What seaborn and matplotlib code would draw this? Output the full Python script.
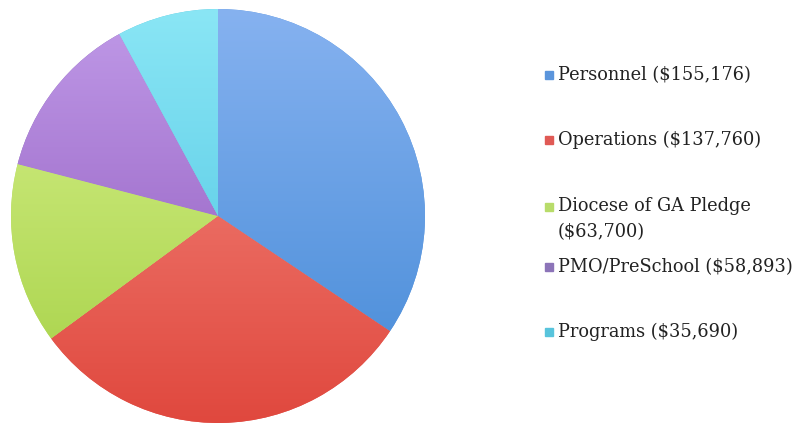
import matplotlib
matplotlib.use("Agg")
import matplotlib.pyplot as plt
import matplotlib.patches as mpatches
import numpy as np
import seaborn as sns
from matplotlib.colors import LinearSegmentedColormap

categories = ["Personnel", "Operations", "Diocese of GA Pledge", "PMO/PreSchool", "Programs"]
values = [155176, 137760, 63700, 58893, 35690]
legend_labels = ["Personnel ($155,176)", "Operations ($137,760)",
                 "Diocese of GA Pledge\n($63,700)", "PMO/PreSchool ($58,893)",
                 "Programs ($35,690)"]
top_colors = ["#86b2f0", "#f58e84", "#d9f28e", "#c09ae8", "#8ae6f5"]
bottom_colors = ["#4389d6", "#e0483e", "#a4d044", "#8a52b8", "#47c1e0"]
legend_colors = ["#5b95dc", "#e05a55", "#b8dc6a", "#8c74b8", "#58c4dc"]

sns.set_theme(style="white")
plt.rcParams['font.family'] = ['DejaVu Serif']

W, H = 809, 423
fig = plt.figure(figsize=(W / 100, H / 100), dpi=100)
fig.patch.set_facecolor("white")

cx, cy, r = 218, 216, 207
ax = fig.add_axes([(cx - r) / W, (H - cy - r) / H, 2 * r / W, 2 * r / H])

wedges, _ = ax.pie(values, radius=1, startangle=90, counterclock=False,
                   colors=legend_colors, wedgeprops=dict(linewidth=0))

yy = np.linspace(1, 0, 256).reshape(-1, 1)
for w, tc, bc in zip(wedges, top_colors, bottom_colors):
    cmap = LinearSegmentedColormap.from_list("g", [bc, tc])
    im = ax.imshow(yy, cmap=cmap, extent=[-1, 1, -1, 1], aspect="auto",
                   origin="upper", zorder=2, interpolation="bilinear", vmin=0, vmax=1)
    im.set_clip_path(w)
ax.set_xlim(-1, 1)
ax.set_ylim(-1, 1)
ax.set_aspect("equal")
ax.axis("off")

# legend drawn as markers + texts
rows_y = [75, 140, 207, 267, 332]
for lab, col, y in zip(legend_labels, legend_colors, rows_y):
    fig.patches.append(mpatches.Rectangle((545 / W, (H - y - 4) / H), 8 / W, 8 / H,
                                          transform=fig.transFigure, color=col, zorder=5))
    if "\n" in lab:
        fig.text(558 / W, (H - y + 10) / H, lab, ha="left", va="top",
                 fontsize=12.8, color="#222222", linespacing=1.6)
    else:
        fig.text(558 / W, (H - y) / H, lab, ha="left", va="center",
                 fontsize=12.8, color="#222222")

fig.savefig("out.png", dpi=100, facecolor="white")
